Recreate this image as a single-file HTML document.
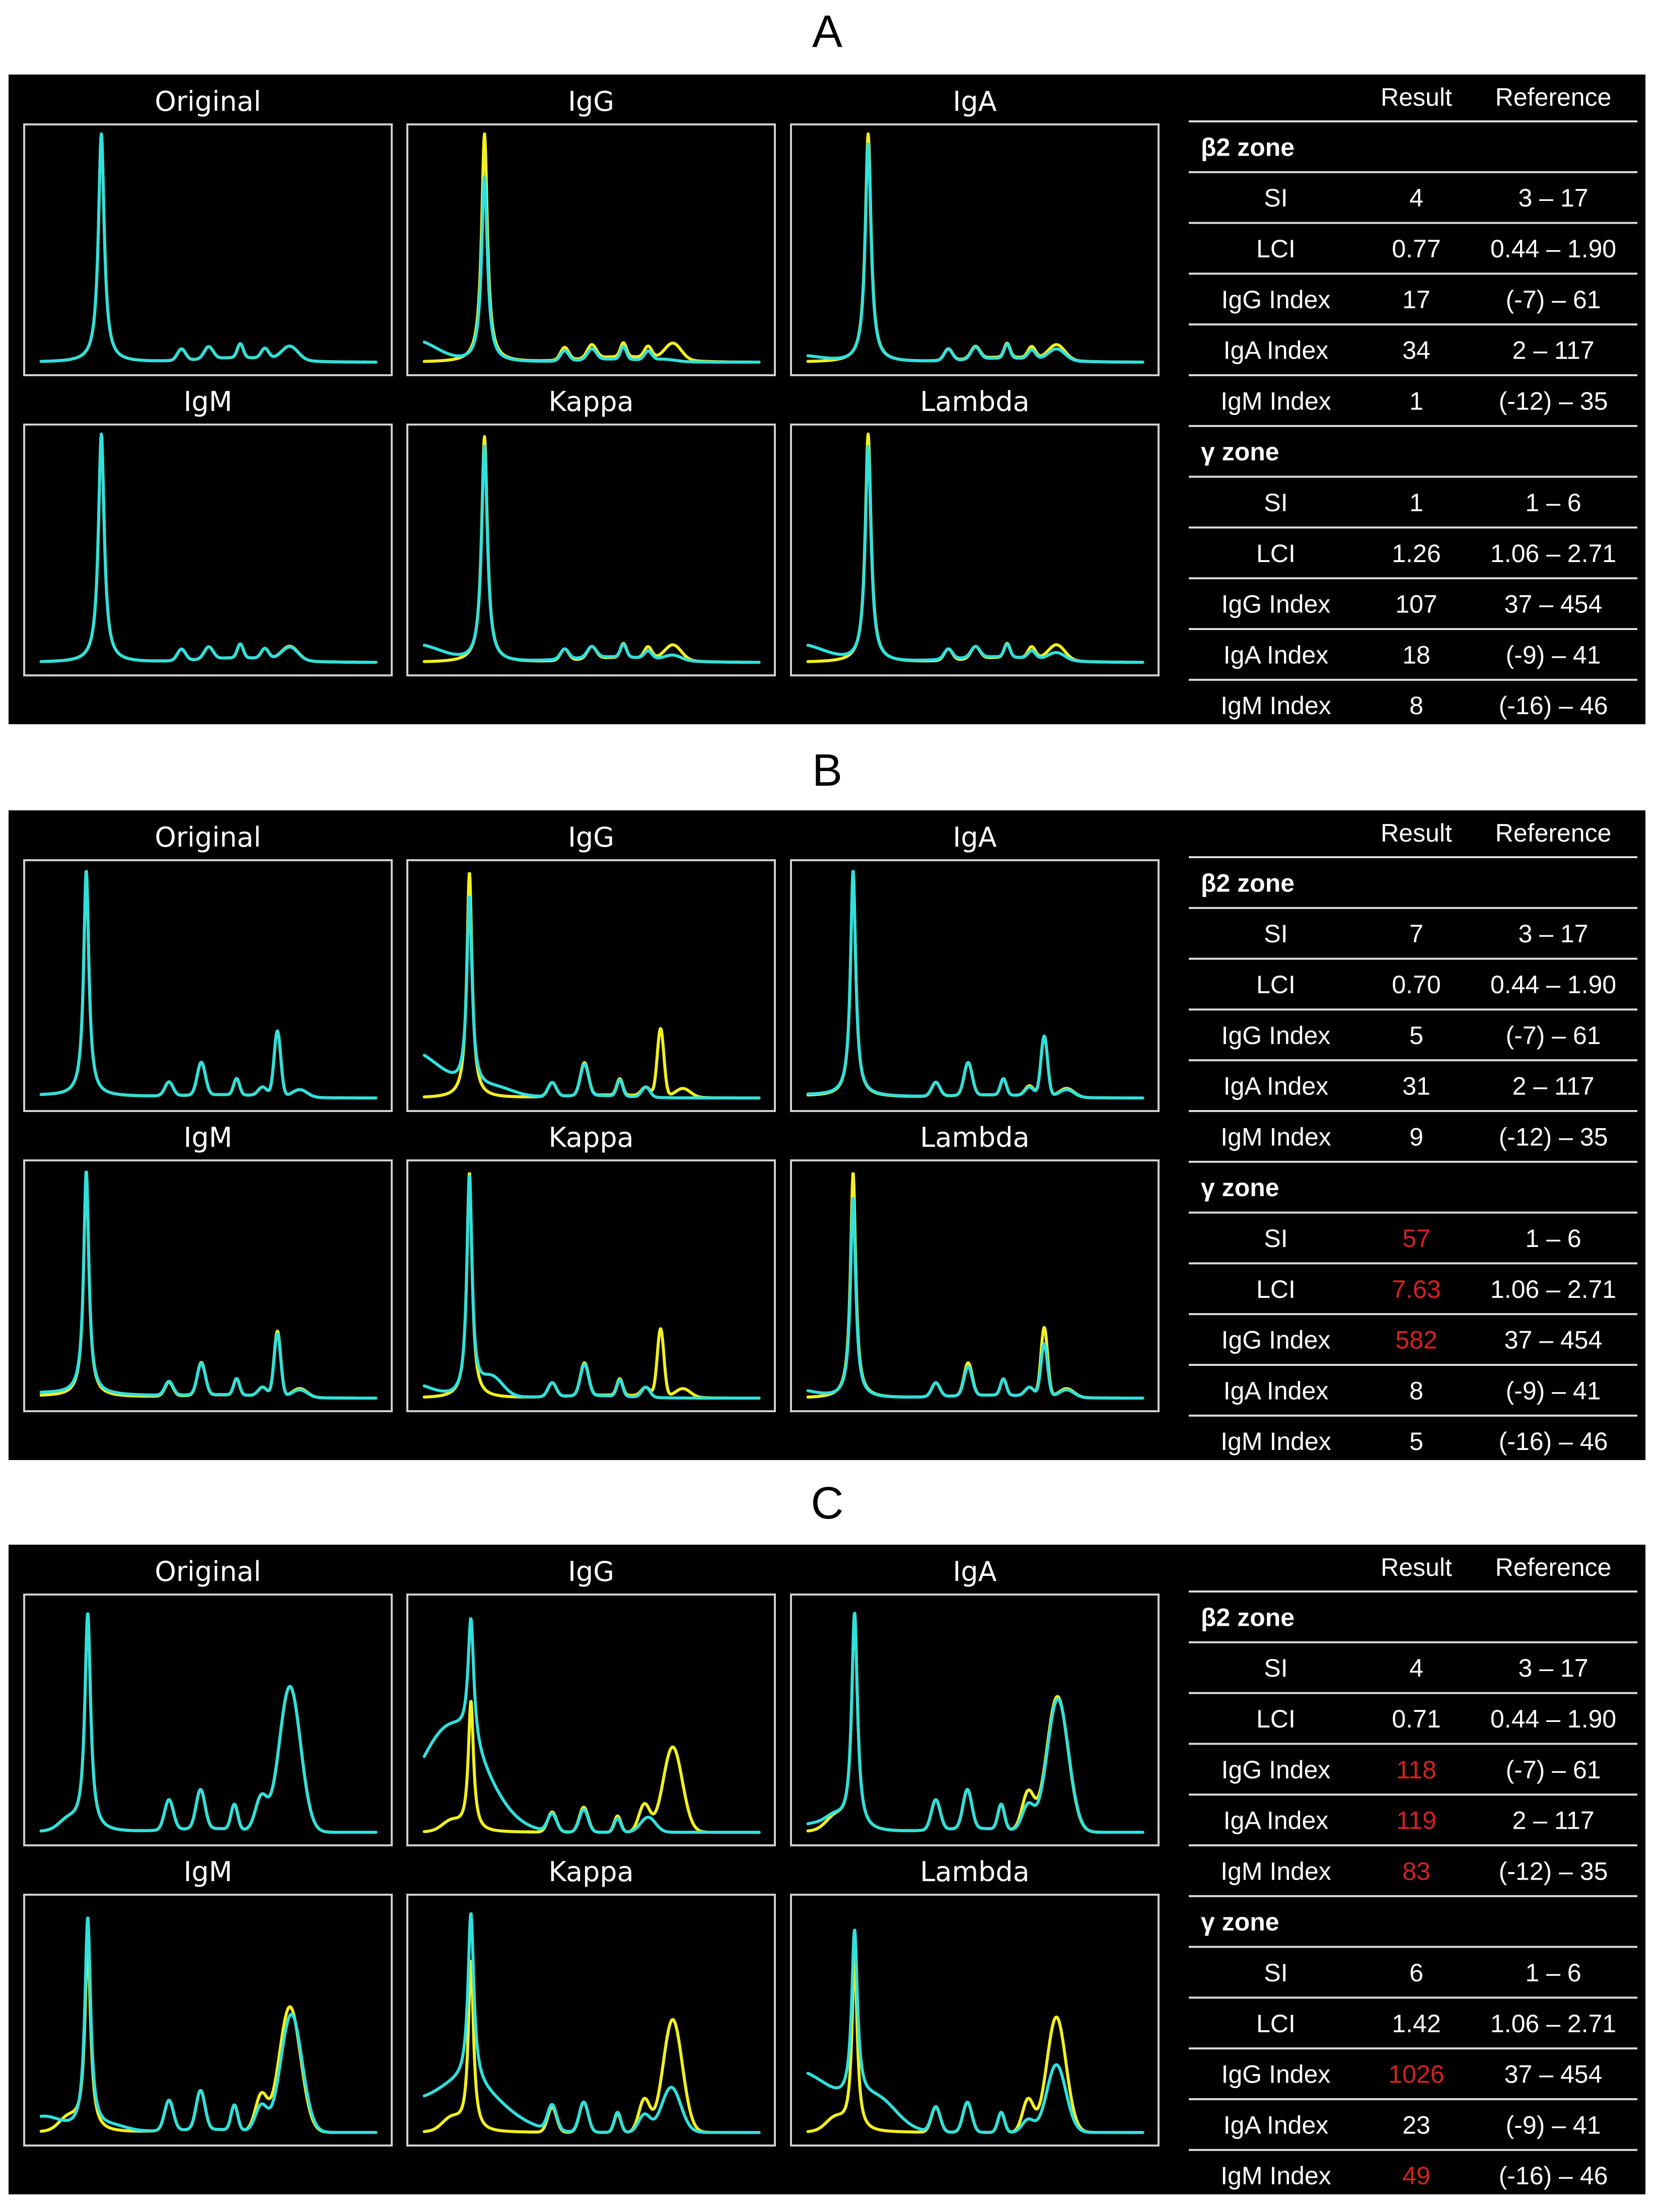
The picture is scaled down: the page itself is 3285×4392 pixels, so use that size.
<!DOCTYPE html>
<html><head><meta charset="utf-8">
<style>
html,body{margin:0;padding:0;background:#fff;}
svg{display:block;}
</style></head>
<body>
<svg id="fig" xmlns="http://www.w3.org/2000/svg" width="3285" height="4392" viewBox="0 0 3285 4392"></svg>
<script>
// Peak components: [x-position (fraction of plot width), height (fraction of plot height), width, kind]
// Panel A
const A_original = [[.21,.91,.0095,'L'],[.428,.045,.011,'G'],[.502,.048,.012,'G'],[.588,.055,.008,'G'],[.655,.04,.010,'G'],[.723,.055,.022,'G'],[.59,.018,.11,'G']];
const A_IgG_yellow = [[.21,.91,.0095,'L'],[.428,.05,.011,'G'],[.502,.053,.012,'G'],[.588,.055,.008,'G'],[.655,.045,.010,'G'],[.723,.065,.022,'G'],[.59,.022,.11,'G']];
const A_IgG_cyan = [[.21,.74,.0095,'L'],[.02,.085,.06,'G'],[.428,.04,.011,'G'],[.502,.043,.012,'G'],[.588,.05,.008,'G'],[.655,.035,.010,'G'],[.70,.008,.03,'G'],[.56,.012,.09,'G']];
const A_IgA_yellow = [[.21,.91,.0095,'L'],[.428,.045,.011,'G'],[.502,.048,.012,'G'],[.588,.055,.008,'G'],[.655,.045,.010,'G'],[.723,.06,.022,'G'],[.59,.02,.11,'G']];
const A_IgA_cyan = [[.21,.87,.0095,'L'],[.02,.025,.06,'G'],[.428,.045,.011,'G'],[.502,.048,.012,'G'],[.588,.055,.008,'G'],[.655,.035,.010,'G'],[.723,.045,.022,'G'],[.59,.016,.11,'G']];
const A_IgM_yellow = A_original;
const A_IgM_cyan = [[.21,.91,.0095,'L'],[.428,.045,.011,'G'],[.502,.048,.012,'G'],[.588,.055,.008,'G'],[.655,.04,.010,'G'],[.723,.052,.022,'G'],[.59,.018,.11,'G']];
const A_Kappa_yellow = [[.21,.90,.0095,'L'],[.428,.045,.011,'G'],[.502,.048,.012,'G'],[.588,.055,.008,'G'],[.655,.045,.010,'G'],[.723,.06,.022,'G'],[.59,.02,.11,'G']];
const A_Kappa_cyan = [[.21,.86,.0095,'L'],[.02,.07,.07,'G'],[.428,.04,.011,'G'],[.502,.043,.012,'G'],[.588,.05,.008,'G'],[.655,.03,.010,'G'],[.723,.02,.022,'G'],[.56,.022,.12,'G']];
const A_Lambda_yellow = [[.21,.91,.0095,'L'],[.428,.045,.011,'G'],[.502,.048,.012,'G'],[.588,.055,.008,'G'],[.655,.045,.010,'G'],[.723,.06,.022,'G'],[.59,.02,.11,'G']];
const A_Lambda_cyan = [[.21,.86,.0095,'L'],[.02,.07,.07,'G'],[.428,.04,.011,'G'],[.502,.043,.012,'G'],[.588,.05,.008,'G'],[.655,.03,.010,'G'],[.723,.03,.022,'G'],[.56,.022,.12,'G']];
// Panel B
const B_original = [[.169,.90,.0085,'L'],[.394,.055,.011,'G'],[.482,.13,.011,'G'],[.578,.065,.008,'G'],[.649,.035,.012,'G'],[.689,.26,.009,'G'],[.75,.03,.02,'G'],[0,.01,.25,'G'],[.55,.012,.12,'G']];
const B_IgG_yellow = [[.169,.90,.0085,'L'],[.394,.055,.011,'G'],[.482,.13,.011,'G'],[.578,.065,.008,'G'],[.649,.035,.012,'G'],[.689,.27,.009,'G'],[.75,.035,.02,'G'],[.55,.012,.12,'G']];
const B_IgG_cyan = [[.169,.76,.0085,'L'],[0,.19,.09,'G'],[.24,.035,.05,'G'],[.394,.055,.011,'G'],[.482,.125,.011,'G'],[.578,.065,.008,'G'],[.649,.04,.011,'G'],[.5,.01,.1,'G']];
const B_IgA_yellow = [[.169,.90,.0085,'L'],[.394,.055,.011,'G'],[.482,.13,.011,'G'],[.578,.065,.008,'G'],[.649,.04,.012,'G'],[.689,.24,.009,'G'],[.75,.035,.02,'G'],[0,.008,.2,'G'],[.55,.012,.12,'G']];
const B_IgA_cyan = [[.169,.90,.0085,'L'],[.394,.055,.011,'G'],[.482,.13,.011,'G'],[.578,.065,.008,'G'],[.649,.035,.012,'G'],[.689,.24,.009,'G'],[.75,.03,.02,'G'],[0,.012,.2,'G'],[.55,.012,.12,'G']];
const B_IgM_yellow = [[.169,.90,.0085,'L'],[.394,.055,.011,'G'],[.482,.13,.011,'G'],[.578,.065,.008,'G'],[.649,.035,.012,'G'],[.689,.26,.009,'G'],[.75,.035,.02,'G'],[0,.008,.25,'G'],[.55,.012,.12,'G']];
const B_IgM_cyan = [[.169,.89,.0085,'L'],[.394,.055,.011,'G'],[.482,.125,.011,'G'],[.578,.065,.008,'G'],[.649,.035,.012,'G'],[.689,.25,.009,'G'],[.75,.03,.02,'G'],[0,.02,.25,'G'],[.55,.012,.12,'G']];
const B_Kappa_yellow = [[.169,.90,.0085,'L'],[.394,.055,.011,'G'],[.482,.13,.011,'G'],[.578,.065,.008,'G'],[.649,.035,.012,'G'],[.689,.27,.009,'G'],[.75,.035,.02,'G'],[.55,.012,.12,'G']];
const B_Kappa_cyan = [[.169,.88,.0085,'L'],[0,.06,.06,'G'],[.23,.075,.03,'G'],[.394,.055,.011,'G'],[.482,.125,.011,'G'],[.578,.065,.008,'G'],[.649,.04,.011,'G'],[.5,.01,.1,'G']];
const B_Lambda_yellow = [[.169,.90,.0085,'L'],[.394,.055,.011,'G'],[.482,.13,.011,'G'],[.578,.065,.008,'G'],[.649,.035,.012,'G'],[.689,.275,.009,'G'],[.75,.035,.02,'G'],[.55,.012,.12,'G']];
const B_Lambda_cyan = [[.169,.80,.0085,'L'],[0,.035,.06,'G'],[.394,.055,.011,'G'],[.482,.115,.011,'G'],[.578,.065,.008,'G'],[.649,.035,.012,'G'],[.689,.21,.009,'G'],[.75,.03,.02,'G'],[.55,.012,.12,'G']];
// Panel C
const C_original = [[.173,.87,.0095,'L'],[.12,.04,.025,'G'],[.394,.12,.012,'G'],[.48,.155,.012,'G'],[.572,.10,.009,'G'],[.645,.13,.016,'G'],[.723,.58,.029,'G'],[.5,.015,.1,'G']];
const C_IgG_yellow = [[.173,.52,.0085,'L'],[.12,.04,.025,'G'],[.394,.08,.012,'G'],[.48,.10,.012,'G'],[.572,.065,.009,'G'],[.645,.11,.015,'G'],[.722,.34,.026,'G']];
const C_IgG_cyan = [[.173,.50,.0095,'L'],[.12,.42,.09,'G'],[.394,.07,.012,'G'],[.48,.09,.012,'G'],[.572,.055,.009,'G'],[.655,.06,.02,'G']];
const C_IgA_yellow = [[.173,.87,.0095,'L'],[.12,.05,.025,'G'],[.394,.12,.012,'G'],[.48,.155,.012,'G'],[.572,.10,.009,'G'],[.645,.15,.016,'G'],[.725,.54,.029,'G'],[.5,.015,.1,'G']];
const C_IgA_cyan = [[.173,.87,.0095,'L'],[.06,.03,.05,'G'],[.12,.04,.025,'G'],[.394,.12,.012,'G'],[.48,.155,.012,'G'],[.572,.10,.009,'G'],[.645,.10,.016,'G'],[.726,.53,.029,'G'],[.5,.015,.1,'G']];
const C_IgM_yellow = [[.173,.74,.0095,'L'],[.12,.05,.025,'G'],[.394,.12,.012,'G'],[.48,.155,.012,'G'],[.572,.10,.009,'G'],[.645,.14,.016,'G'],[.723,.50,.029,'G'],[.5,.012,.1,'G']];
const C_IgM_cyan = [[.173,.85,.0095,'L'],[.05,.06,.05,'G'],[.24,.02,.04,'G'],[.394,.12,.012,'G'],[.48,.155,.012,'G'],[.572,.10,.009,'G'],[.645,.10,.016,'G'],[.727,.47,.029,'G'],[.5,.012,.1,'G']];
const C_Kappa_yellow = [[.173,.68,.0085,'L'],[.12,.05,.025,'G'],[.394,.10,.012,'G'],[.48,.12,.012,'G'],[.572,.075,.009,'G'],[.645,.13,.015,'G'],[.722,.45,.026,'G']];
const C_Kappa_cyan = [[.173,.68,.0095,'L'],[.15,.2,.10,'G'],[0,.05,.04,'G'],[.394,.10,.012,'G'],[.48,.12,.012,'G'],[.572,.08,.009,'G'],[.645,.07,.016,'G'],[.718,.18,.026,'G']];
const C_Lambda_yellow = [[.173,.70,.0085,'L'],[.12,.05,.025,'G'],[.394,.10,.012,'G'],[.48,.12,.012,'G'],[.572,.08,.009,'G'],[.645,.13,.015,'G'],[.722,.46,.026,'G']];
const C_Lambda_cyan = [[.173,.68,.0095,'L'],[0,.25,.12,'G'],[.24,.10,.05,'G'],[.394,.10,.012,'G'],[.48,.12,.012,'G'],[.572,.08,.009,'G'],[.645,.05,.016,'G'],[.722,.27,.026,'G']];

const subplotNames = ['Original','IgG','IgA','IgM','Kappa','Lambda'];
const panelLetters = ['A','B','C'];
const yellowSeries = [
  [A_original, A_IgG_yellow, A_IgA_yellow, A_IgM_yellow, A_Kappa_yellow, A_Lambda_yellow],
  [B_original, B_IgG_yellow, B_IgA_yellow, B_IgM_yellow, B_Kappa_yellow, B_Lambda_yellow],
  [C_original, C_IgG_yellow, C_IgA_yellow, C_IgM_yellow, C_Kappa_yellow, C_Lambda_yellow]];
const cyanSeries = [
  [A_original, A_IgG_cyan, A_IgA_cyan, A_IgM_cyan, A_Kappa_cyan, A_Lambda_cyan],
  [B_original, B_IgG_cyan, B_IgA_cyan, B_IgM_cyan, B_Kappa_cyan, B_Lambda_cyan],
  [C_original, C_IgG_cyan, C_IgA_cyan, C_IgM_cyan, C_Kappa_cyan, C_Lambda_cyan]];

const rowLabels = ['β2 zone','SI','LCI','IgG Index','IgA Index','IgM Index','γ zone','SI','LCI','IgG Index','IgA Index','IgM Index'];
const refRanges = ['','3 – 17','0.44 – 1.90','(-7) – 61','2 – 117','(-12) – 35','','1 – 6','1.06 – 2.71','37 – 454','(-9) – 41','(-16) – 46'];
const resultsA = ['','4','0.77','17','34','1','','1','1.26','107','18','8'];
const resultsB = ['','7','0.70','5','31','9','','57','7.63','582','8','5'];
const resultsC = ['','4','0.71','118','119','83','','6','1.42','1026','23','49'];
const flaggedA = [];
const flaggedB = [7,8,9];
const flaggedC = [3,4,5,9,11];

const results = [resultsA, resultsB, resultsC];
const flagged = [flaggedA, flaggedB, flaggedC];

const NS = 'http://www.w3.org/2000/svg';
const svg = document.getElementById('fig');
function mk(tag, attrs, parent){
  const e = document.createElementNS(NS, tag);
  for (const k in attrs) e.setAttribute(k, attrs[k]);
  (parent||svg).appendChild(e);
  return e;
}
const panelTops = [148, 1609, 3067];
const letterY = [93, 1560, 3015];
const colX = [48, 809, 1571];
const boxW = 730, boxH = 498;
const rowY = [99, 695];
const FONT_T = '"DejaVu Sans", "Liberation Sans", sans-serif';
const FONT_L = '"Liberation Sans", sans-serif';

function profile(peaks, x){
  let v = 0;
  for (const p of peaks){
    const d = (x - p[0]) / p[2];
    v += p[3] === 'G' ? p[1]*Math.exp(-0.5*d*d) : p[1]/(1+d*d);
  }
  return v;
}
function xScale(bx, f){ return bx + f*boxW; }
function yScale(by, v){ return by + (0.948 - v)*boxH; }
function curvePath(peaks, bx, by){
  let d = '';
  const N = 700;
  for (let i=0;i<=N;i++){
    const f = 0.046 + (0.957-0.046)*i/N;
    const X = xScale(bx, f), Y = yScale(by, profile(peaks, f));
    d += (i?'L':'M') + X.toFixed(1) + ' ' + Y.toFixed(1);
  }
  return d;
}

for (let p=0;p<3;p++){
  const top = panelTops[p];
  const letter = mk('text',{x:1643,y:letterY[p],'font-family':FONT_L,'font-size':90,'text-anchor':'middle',fill:'#000'});
  letter.textContent = panelLetters[p];
  
  
  const g = mk('g',{});
  
  
  const bg = mk('rect',{x:17,y:top,width:3251,height:1290,fill:'#000'},g);
  
  
  for (let s=0;s<6;s++){
    const bx = colX[s%3], by = top + rowY[Math.floor(s/3)];
    const sg = mk('g',{},g);
    
    
    const t = mk('text',{x:bx+boxW/2,y:by-27,'font-family':FONT_T,'font-size':54,'text-anchor':'middle',fill:'#fff'},sg);
    t.textContent = subplotNames[s];
    
    
    const fr = mk('rect',{x:bx,y:by,width:boxW,height:boxH,fill:'none',stroke:'#d0d0d0','stroke-width':4},sg);
    
    
    const yl = mk('path',{d:curvePath(yellowSeries[p][s],bx,by),fill:'none',stroke:'#f2f020','stroke-width':6,'stroke-linejoin':'round','stroke-linecap':'round'},sg);
    
    
    const cl = mk('path',{d:curvePath(cyanSeries[p][s],bx,by),fill:'none',stroke:'#30e0dc','stroke-width':6,'stroke-linejoin':'round','stroke-linecap':'round'},sg);
    
    
  }
  const tg = mk('g',{},g);
  
  
  const h1 = mk('text',{x:2813,y:top+62,'font-family':FONT_L,'font-size':50,'text-anchor':'middle',fill:'#fff'},tg);
  h1.textContent = 'Result';
  
  
  const h2 = mk('text',{x:3085,y:top+62,'font-family':FONT_L,'font-size':50,'text-anchor':'middle',fill:'#fff'},tg);
  h2.textContent = 'Reference';
  
  
  for (let r=0;r<12;r++){
    const ly = top + 93 + r*100.8;
    const ln = mk('rect',{x:2361,y:ly-2,width:891,height:4,fill:'#dcdcdc'},tg);
    
    
    const mid = ly + 50.4, base = mid + 18;
    const zone = (r===0||r===6);
    const lab = mk('text',{x: zone?2385:2534, y:base,'font-family':FONT_L,'font-size':50,'font-weight':zone?'bold':'normal','text-anchor':zone?'start':'middle',fill:'#fff'},tg);
    lab.textContent = rowLabels[r];
    
    
    if (!zone){
      const rv = mk('text',{x:2813,y:base,'font-family':FONT_L,'font-size':50,'text-anchor':'middle',fill: flagged[p].includes(r)?'#d42222':'#fff'},tg);
      rv.textContent = results[p][r];
      
      
      const rf = mk('text',{x:3085,y:base,'font-family':FONT_L,'font-size':50,'text-anchor':'middle',fill:'#fff'},tg);
      rf.textContent = refRanges[r];
      
      
    }
  }
}
</script>
</body></html>
